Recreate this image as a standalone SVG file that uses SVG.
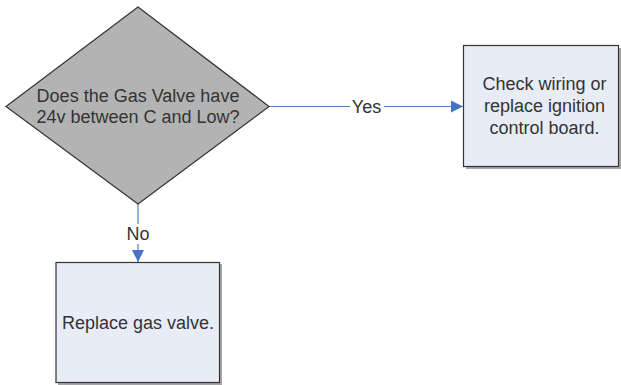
<svg xmlns="http://www.w3.org/2000/svg" width="621" height="385" viewBox="0 0 621 385">
<style>
.t{font-family:"Liberation Sans",Arial,sans-serif;font-size:18px;fill:#333;text-anchor:middle}
.box{fill:#E8ECF7;stroke:#333;stroke-width:1.2}
.sh{fill:#A6A6A6}
.c{stroke:#4F81BD;stroke-width:1.2;fill:none}
</style>
<defs>
<marker id="ah" markerWidth="12" markerHeight="12" refX="12" refY="6" orient="auto" markerUnits="userSpaceOnUse">
<path d="M0,0 L12,6 L0,12 Z" fill="#4472C4"/>
</marker>
</defs>
<rect width="621" height="385" fill="#fff"/>
<g id="connectors">
<line class="c" x1="269" y1="106.5" x2="350" y2="106.5"/>
<line class="c" x1="384" y1="106.5" x2="463" y2="106.5" marker-end="url(#ah)"/>
<line class="c" x1="138" y1="204" x2="138" y2="224"/>
<line class="c" x1="138" y1="244" x2="138" y2="262" marker-end="url(#ah)"/>
<text class="t" x="366.5" y="112.5">Yes</text>
<text class="t" x="138" y="239.5">No</text>
</g>
<g id="decision">
<path d="M138,7 L269,106.5 L138,204 L6,106.5 Z" fill="#B3B3B3" stroke="#333" stroke-width="1.2"/>
<text class="t" x="138" y="102">Does the Gas Valve have</text>
<text class="t" x="138" y="123">24v between C and Low?</text>
</g>
<g id="check">
<rect class="sh" x="466" y="48" width="155" height="121"/>
<rect class="box" x="463.5" y="45.5" width="155" height="121"/>
<text class="t" x="544.5" y="90">Check wiring or</text>
<text class="t" x="544.5" y="112">replace ignition</text>
<text class="t" x="544.5" y="134">control board.</text>
</g>
<g id="replace">
<rect class="sh" x="58" y="264" width="164" height="121"/>
<rect class="box" x="56" y="262.5" width="163.5" height="120"/>
<text class="t" x="138" y="329">Replace gas valve.</text>
</g>
</svg>
